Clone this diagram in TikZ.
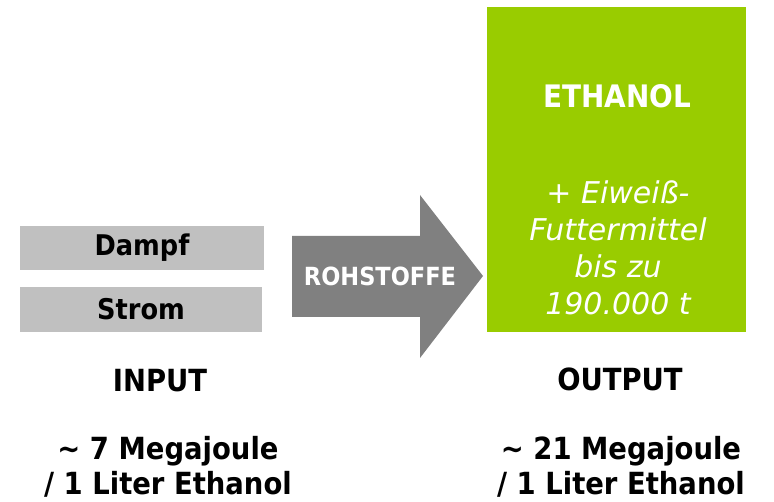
\documentclass[tikz,border=0pt]{standalone}
\usepackage{fontspec}
\setmainfont{DejaVu Sans}
\newfontfamily\condfont{DejaVu Sans Condensed}
\begin{document}
\begin{tikzpicture}[x=1pt,y=-1pt,
  graybox/.style={fill=boxgray, draw=none, inner sep=0pt, font=\condfont\fontsize{28.5}{32}\selectfont\bfseries},
  bigtxt/.style={font=\condfont\fontsize{30.5}{35}\selectfont\bfseries, align=center, inner sep=0pt},
  whitetxt/.style={text=white, inner sep=0pt}]
\definecolor{boxgray}{HTML}{C0C0C0}
\definecolor{arrowgray}{HTML}{808080}
\definecolor{limegreen}{HTML}{99CC00}
\useasboundingbox (0,0) rectangle (774,502);
% input boxes
\node[graybox, minimum width=244pt, minimum height=44pt] (dampf) at (142,248) {Dampf};
\node[graybox, minimum width=242pt, minimum height=45pt] (strom) at (141,309.5) {Strom};
% arrow
\fill[arrowgray] (292,236) -- (420,236) -- (420,195) -- (483,276) -- (420,358) -- (420,317) -- (292,317) -- cycle;
\node[whitetxt, font=\condfont\fontsize{25}{30}\selectfont\bfseries] (roh) at (380,276) {ROHSTOFFE};
% output box
\node[fill=limegreen, minimum width=259pt, minimum height=325pt, inner sep=0pt] (out) at (616.5,169.5) {};
\node[whitetxt, font=\condfont\fontsize{31}{36}\selectfont\bfseries] (eth) at (617,96) {ETHANOL};
\node[whitetxt, font=\fontsize{30}{37}\selectfont\itshape, align=center] (feed) at (618,248) {+ Eiweiß-\\Futtermittel\\bis zu\\190.000 t};
% labels
\node[bigtxt] (input) at (160,381) {INPUT};
\node[bigtxt] (output) at (620,379) {OUTPUT};
\node[bigtxt] (inval) at (168,467) {\textasciitilde{} 7 Megajoule\\/ 1 Liter Ethanol};
\node[bigtxt] (outval) at (621,467) {\textasciitilde{} 21 Megajoule\\/ 1 Liter Ethanol};
\end{tikzpicture}
\end{document}
